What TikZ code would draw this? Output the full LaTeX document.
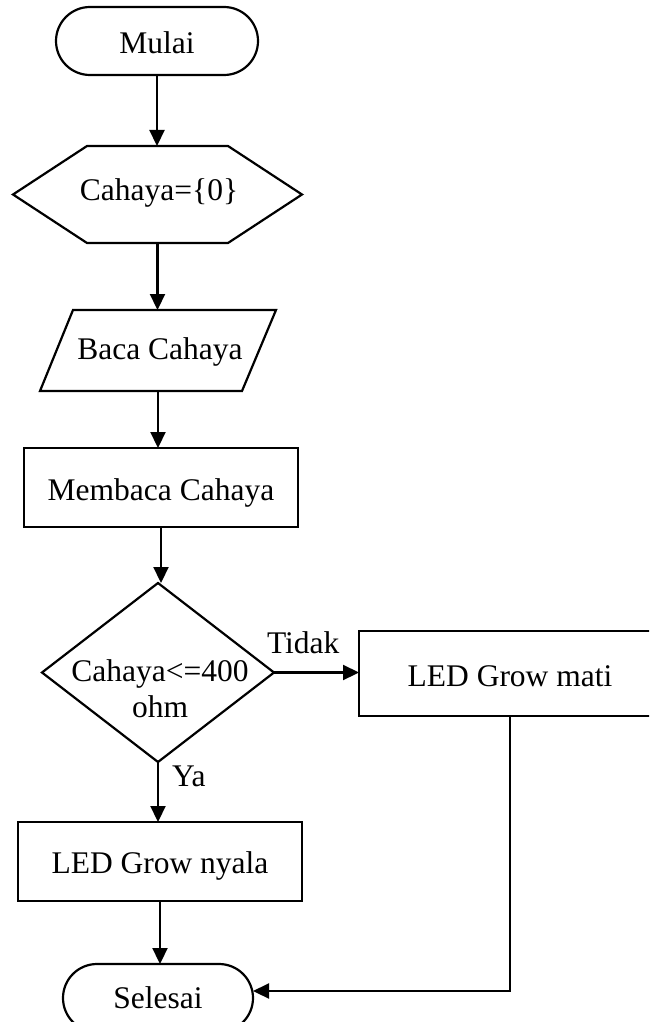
\documentclass[tikz,border=0pt]{standalone}
\usepackage{fontspec}
\setmainfont{Liberation Serif}
\usetikzlibrary{arrows.meta,calc}
\begin{document}
\begin{tikzpicture}[x=1pt,y=-1pt, line width=2.2pt, line join=miter,
  every node/.style={inner sep=0pt, outer sep=0pt},
  term/.style={draw, rectangle, rounded corners=34pt, minimum width=#1, minimum height=68pt},
  proc/.style={draw, rectangle},
  ghost/.style={rectangle},
  txt/.style={font=\fontsize{31.5}{36}\selectfont, anchor=base, align=center},
  lbl/.style={font=\fontsize{31.5}{36}\selectfont, anchor=base west},
  flow/.style={-{Triangle[length=16pt,width=15pt]}}
]
\useasboundingbox (0,0) rectangle (649,1022);
\clip (0,0) rectangle (649,1022);

% Start
\node[term=202pt] (start) at (157,41) {};
\node[txt] (tstart) at (157,54) {Mulai};

% Initialisation (hexagon)
\node[ghost, minimum width=289pt, minimum height=97pt] (init) at (157.5,194.5) {};
\draw (init.west) -- ($(init.north west)+(74,0)$) -- ($(init.north east)+(-74,0)$)
  -- (init.east) -- ($(init.south east)+(-74,0)$) -- ($(init.south west)+(74,0)$) -- cycle;
\node[txt] (tinit) at (159,200) {Cahaya=\{0\}};

% Input (parallelogram)
\node[ghost, minimum width=236pt, minimum height=81pt] (inp) at (158,350.5) {};
\draw ($(inp.north west)+(33,0)$) -- (inp.north east) -- ($(inp.south east)+(-34,0)$)
  -- (inp.south west) -- cycle;
\node[txt] (tinp) at (160,359) {Baca Cahaya};

% Process
\node[proc, minimum width=274pt, minimum height=79pt] (mem) at (161,487.5) {};
\node[txt] (tmem) at (161,500) {Membaca Cahaya};

% Decision (diamond)
\node[ghost, minimum width=232pt, minimum height=179pt] (dec) at (158,672.5) {};
\draw (dec.north) -- (dec.east) -- (dec.south) -- (dec.west) -- cycle;
\node[txt] (tdec) at (160,717) {Cahaya<=400\\ohm};

% LED off
\node[proc, minimum width=302pt, minimum height=85pt] (mati) at (510,673.5) {};
\node[txt] (tmati) at (510,686) {LED Grow mati};

% LED on
\node[proc, minimum width=284pt, minimum height=79pt] (nyala) at (160,861.5) {};
\node[txt] (tnyala) at (160,873) {LED Grow nyala};

% End
\node[term=190pt] (stop) at (158,998) {};
\node[txt] (tstop) at (158,1008) {Selesai};

% Labels
\node[lbl] (tidak) at (267,653) {Tidak};
\node[lbl] (ya) at (172,786) {Ya};

% Connectors
\draw[flow] (start.south) -- (start.south |- init.north);
\draw[flow] (init.south) -- (init.south |- inp.north);
\draw[flow] (inp.south) -- (inp.south |- mem.north);
\draw[flow] (mem.south) -- (mem.south |- dec.north);
\draw[flow] (dec.east) -- (dec.east -| mati.west);
\draw[flow] (dec.south) -- (dec.south |- nyala.north);
\draw[flow] (nyala.south) -- (nyala.south |- stop.north);
\coordinate (corner) at (510,991);
\draw[flow] (mati.south) -- (corner) -- (corner -| stop.east);
\end{tikzpicture}
\end{document}
